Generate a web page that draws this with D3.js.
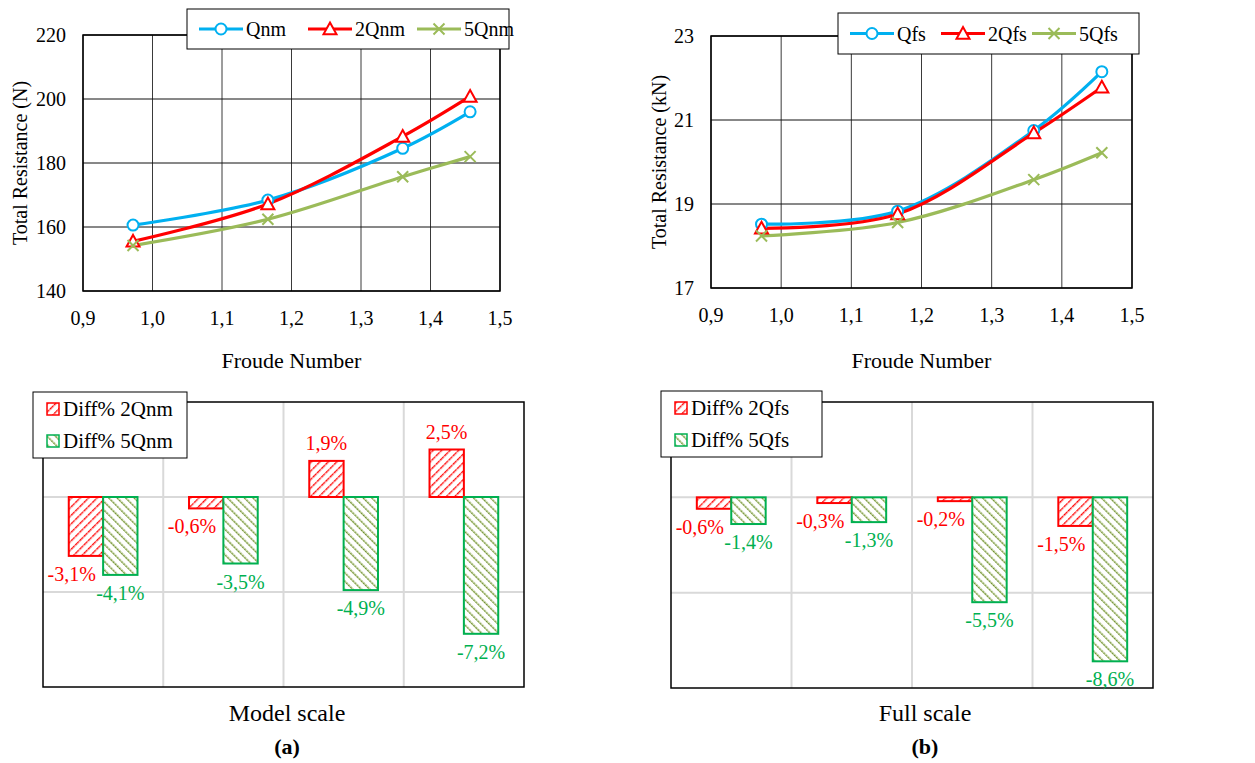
<!DOCTYPE html>
<html>
<head>
<meta charset="utf-8">
<script src="https://cdn.jsdelivr.net/npm/d3@7"></script>
<style>
  body { margin: 0; background: #fff; }
  svg { font-family: "Liberation Serif", "Times New Roman", serif; }
</style>
</head>
<body>
<svg id="chart" width="1255" height="763"></svg>
<script>
// data
const froude = [0.972, 1.166, 1.36, 1.457];
const qnm   = [160.6, 168.4, 184.6, 196.0];
const q2nm  = [155.5, 167.2, 188.3, 200.8];
const q5nm  = [154.2, 162.4, 175.7, 182.0];
const qfs   = [18.52, 18.83, 20.75, 22.15];
const q2fs  = [18.42, 18.76, 20.69, 21.78];
const q5fs  = [18.24, 18.56, 19.58, 20.22];
const diff2nm = [-3.1, -0.6, 1.9, 2.5];
const diff5nm = [-4.1, -3.5, -4.9, -7.2];
const diff2fs = [-0.6, -0.3, -0.2, -1.5];
const diff5fs = [-1.4, -1.3, -5.5, -8.6];
const xTicks = [0.9, 1.0, 1.1, 1.2, 1.3, 1.4, 1.5];
const yTicksNm = [140, 160, 180, 200, 220];
const yTicksFs = [17, 19, 21, 23];

const blue = "#00B0F0", red = "#FF0000", olive = "#9BBB59", green = "#00B050";
const fmt = v => String(v).replace(".", ",");

const svg = d3.select("#chart");
const defs = svg.append("defs");

// hatch patterns like Excel's wide diagonals
const pr = defs.append("pattern").attr("id", "hatchRed")
  .attr("patternUnits", "userSpaceOnUse").attr("width", 6).attr("height", 6)
  .attr("patternTransform", "rotate(45)");
pr.append("rect").attr("width", 6).attr("height", 6).attr("fill", "#fff");
pr.append("line").attr("x1", 0).attr("y1", 0).attr("x2", 0).attr("y2", 6)
  .attr("stroke", red).attr("stroke-width", 2.8).attr("stroke-dasharray", "2.5,0.8");

const pg = defs.append("pattern").attr("id", "hatchGreen")
  .attr("patternUnits", "userSpaceOnUse").attr("width", 6).attr("height", 6)
  .attr("patternTransform", "rotate(-45)");
pg.append("rect").attr("width", 6).attr("height", 6).attr("fill", "#fff");
pg.append("line").attr("x1", 0).attr("y1", 0).attr("x2", 0).attr("y2", 6)
  .attr("stroke", "#B5CB85").attr("stroke-width", 2.8);
pg.append("line").attr("x1", 0).attr("y1", 0).attr("x2", 0).attr("y2", 6)
  .attr("stroke", "#6B8A2E").attr("stroke-width", 2.8).attr("stroke-dasharray", "1.6,1.4");

function marker(g, type, color, x, y) {
  if (type === "circle") {
    g.append("circle").attr("cx", x).attr("cy", y).attr("r", 5.5)
      .attr("fill", "#fff").attr("stroke", color).attr("stroke-width", 2);
  } else if (type === "tri") {
    const s = 6.5;
    g.append("path").attr("d", `M${x},${y - s}L${x + s},${y + s * 0.8}L${x - s},${y + s * 0.8}Z`)
      .attr("fill", "#fff").attr("stroke", color).attr("stroke-width", 2);
  } else {
    const s = 5.5;
    g.append("path").attr("d", `M${x - s},${y - s}L${x + s},${y + s}M${x - s},${y + s}L${x + s},${y - s}`)
      .attr("stroke", color).attr("stroke-width", 2);
  }
}

function lineChart(opt) {
  const g = svg.append("g");
  const x = d3.scaleLinear().domain([0.9, 1.5]).range([opt.left, opt.right]);
  const y = d3.scaleLinear().domain(opt.yDomain).range([opt.bottom, opt.top]);

  // grid
  g.selectAll(".vg").data(xTicks).enter().append("line")
    .attr("x1", d => x(d)).attr("x2", d => x(d))
    .attr("y1", opt.top).attr("y2", opt.bottom)
    .attr("stroke", "#3a3a3a").attr("stroke-width", 1);
  g.selectAll(".hg").data(opt.yTicks).enter().append("line")
    .attr("x1", opt.left).attr("x2", opt.right)
    .attr("y1", d => y(d)).attr("y2", d => y(d))
    .attr("stroke", "#111").attr("stroke-width", 1);
  g.append("rect").attr("x", opt.left).attr("y", opt.top)
    .attr("width", opt.right - opt.left).attr("height", opt.bottom - opt.top)
    .attr("fill", "none").attr("stroke", "#000").attr("stroke-width", 1.5);

  // tick labels
  g.selectAll(".xt").data(xTicks).enter().append("text")
    .attr("x", d => x(d)).attr("y", opt.bottom + 34)
    .attr("text-anchor", "middle").attr("font-size", 20)
    .text(d => d.toFixed(1).replace(".", ","));
  g.selectAll(".yt").data(opt.yTicks).enter().append("text")
    .attr("x", opt.left - 17).attr("y", d => y(d) + 7)
    .attr("text-anchor", "end").attr("font-size", 20)
    .text(d => d);

  g.append("text").attr("x", (opt.left + opt.right) / 2).attr("y", 368)
    .attr("text-anchor", "middle").attr("font-size", 22).text("Froude Number");
  g.append("text").attr("transform", `translate(${opt.ytX},${(opt.top + opt.bottom) / 2}) rotate(-90)`)
    .attr("text-anchor", "middle").attr("font-size", 20).text(opt.yTitle);

  const line = d3.line().x(d => x(d[0])).y(d => y(d[1])).curve(d3.curveCatmullRom.alpha(0.5));
  opt.series.forEach(s => {
    const pts = froude.map((f, i) => [f, s.values[i]]);
    g.append("path").datum(pts).attr("d", line)
      .attr("fill", "none").attr("stroke", s.color).attr("stroke-width", 3.2);
  });
  opt.series.forEach(s => {
    froude.forEach((f, i) => marker(g, s.marker, s.color, x(f), y(s.values[i])));
  });

  // legend
  const lg = g.append("g");
  lg.append("rect").attr("x", opt.legend.x).attr("y", opt.legend.y)
    .attr("width", opt.legend.w).attr("height", opt.legend.h)
    .attr("fill", "#fff").attr("stroke", "#000").attr("stroke-width", 1);
  opt.series.forEach((s, i) => {
    const lx = opt.legend.x + 12 + i * opt.legend.step;
    const ly = opt.legend.y + opt.legend.h / 2;
    lg.append("line").attr("x1", lx).attr("x2", lx + 44).attr("y1", ly).attr("y2", ly)
      .attr("stroke", s.color).attr("stroke-width", 3.2);
    marker(lg, s.marker, s.color, lx + 22, ly);
    lg.append("text").attr("x", lx + 47).attr("y", ly + 7)
      .attr("font-size", 20).text(s.name);
  });
}

lineChart({
  left: 83, right: 500, top: 35, bottom: 291,
  yDomain: [140, 220], yTicks: yTicksNm, ytX: 27, yTitle: "Total Resistance (N)",
  series: [
    { name: "Qnm", values: qnm, color: blue, marker: "circle" },
    { name: "2Qnm", values: q2nm, color: red, marker: "tri" },
    { name: "5Qnm", values: q5nm, color: olive, marker: "x" }
  ],
  legend: { x: 187, y: 9, w: 322, h: 40, step: 109 }
});

lineChart({
  left: 711, right: 1132, top: 36, bottom: 288,
  yDomain: [17, 23], yTicks: yTicksFs, ytX: 666, yTitle: "Total Resistance (kN)",
  series: [
    { name: "Qfs", values: qfs, color: blue, marker: "circle" },
    { name: "2Qfs", values: q2fs, color: red, marker: "tri" },
    { name: "5Qfs", values: q5fs, color: olive, marker: "x" }
  ],
  legend: { x: 838, y: 13, w: 301, h: 41, step: 91 }
});

function barChart(opt) {
  const g = svg.append("g");
  const cats = [0, 1, 2, 3];
  const x = d3.scaleBand().domain(cats).range([opt.left, opt.right]);
  const x1 = d3.scaleBand().domain([0, 1]).range([0, x.bandwidth()]).paddingOuter(0.75).paddingInner(0);
  const y = d3.scaleLinear().domain([-10, 5]).range([opt.bottom, opt.top]);

  // light grid
  g.selectAll(".vg").data(cats.slice(1)).enter().append("line")
    .attr("x1", d => x(d)).attr("x2", d => x(d))
    .attr("y1", opt.top).attr("y2", opt.bottom)
    .attr("stroke", "#D9D9D9").attr("stroke-width", 2);
  g.selectAll(".hg").data([0, -5]).enter().append("line")
    .attr("x1", opt.left).attr("x2", opt.right)
    .attr("y1", d => y(d)).attr("y2", d => y(d))
    .attr("stroke", "#D9D9D9").attr("stroke-width", 2);
  g.append("rect").attr("x", opt.left).attr("y", opt.top)
    .attr("width", opt.right - opt.left).attr("height", opt.bottom - opt.top)
    .attr("fill", "none").attr("stroke", "#000").attr("stroke-width", 1.5);

  const series = [
    { values: opt.a, fill: "url(#hatchRed)", stroke: red, text: red, k: 0 },
    { values: opt.b, fill: "url(#hatchGreen)", stroke: green, text: green, k: 1 }
  ];
  series.forEach(s => {
    g.selectAll(null).data(s.values).enter().append("rect")
      .attr("x", (d, i) => x(i) + x1(s.k))
      .attr("width", x1.bandwidth())
      .attr("y", d => y(Math.max(0, d)))
      .attr("height", d => Math.abs(y(d) - y(0)))
      .attr("fill", s.fill).attr("stroke", s.stroke).attr("stroke-width", 2);
  });
  series.forEach(s => {
    g.selectAll(null).data(s.values).enter().append("text")
      .attr("x", (d, i) => {
        const cx = x(i) + x1(s.k) + x1.bandwidth() / 2;
        return (s.k === 0 && d < 0) ? cx + 10 : cx;
      })
      .attr("y", d => d >= 0 ? y(d) - 11 : y(d) + 25)
      .attr("text-anchor", d => (s.k === 0 && d < 0) ? "end" : "middle")
      .attr("font-size", 20).attr("fill", s.text)
      .text(d => fmt(d) + "%");
  });

  // legend
  const lg = g.append("g");
  lg.append("rect").attr("x", opt.legend.x).attr("y", opt.legend.y)
    .attr("width", opt.legend.w).attr("height", 66)
    .attr("fill", "#fff").attr("stroke", "#000").attr("stroke-width", 1);
  series.forEach((s, i) => {
    const ly = opt.legend.y + 17 + i * 32;
    lg.append("rect").attr("x", opt.legend.x + 14).attr("y", ly - 6)
      .attr("width", 12).attr("height", 12)
      .attr("fill", s.fill).attr("stroke", s.stroke).attr("stroke-width", 1.5);
    lg.append("text").attr("x", opt.legend.x + 30).attr("y", ly + 7)
      .attr("font-size", 21).text(opt.names[i]);
  });

  g.append("text").attr("x", opt.capX).attr("y", 721)
    .attr("text-anchor", "middle").attr("font-size", 24).text(opt.caption);
  g.append("text").attr("x", opt.capX).attr("y", 754)
    .attr("text-anchor", "middle").attr("font-size", 22).attr("font-weight", "bold").text(opt.tag);
}

barChart({
  left: 43, right: 524, top: 402, bottom: 687,
  a: diff2nm, b: diff5nm, names: ["Diff% 2Qnm", "Diff% 5Qnm"],
  legend: { x: 33, y: 392, w: 154 },
  caption: "Model scale", tag: "(a)", capX: 287
});

barChart({
  left: 671, right: 1153, top: 402, bottom: 688,
  a: diff2fs, b: diff5fs, names: ["Diff% 2Qfs", "Diff% 5Qfs"],
  legend: { x: 661, y: 391, w: 161 },
  caption: "Full scale", tag: "(b)", capX: 925
});
</script>
</body>
</html>
